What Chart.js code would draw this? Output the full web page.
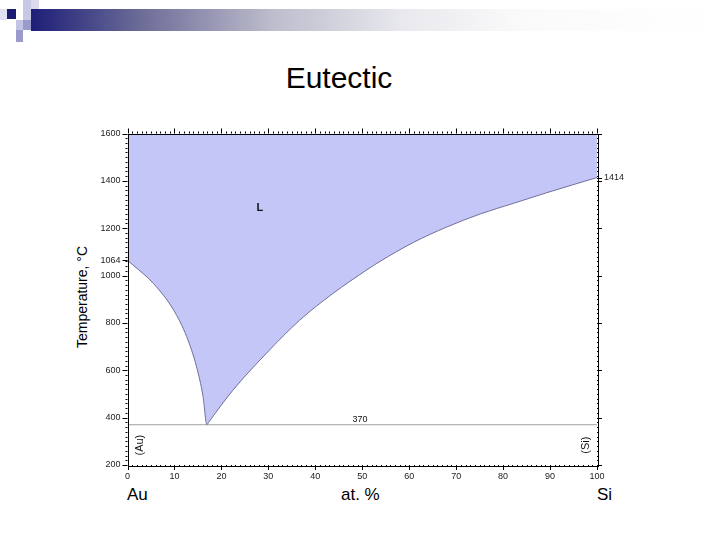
<!DOCTYPE html>
<html>
<head>
<meta charset="utf-8">
<script src="https://cdn.jsdelivr.net/npm/chart.js@4"></script>
<style>
  body { margin: 0; background: #fff; font-family: "Liberation Sans", Arial, sans-serif; }
  #page { position: relative; width: 720px; height: 540px; overflow: hidden; }
  .sq { position: absolute; }
  #bar { position: absolute; left: 31px; top: 9px; width: 689px; height: 22px;
         background: linear-gradient(to right, #1e1e78 0px, #6c6c98 110px, #bcbccc 240px, #e8e8ee 370px, #fafafa 490px, #fff 689px); }
  #title { position: absolute; left: 0; width: 678px; top: 61px; text-align: center; font-size: 30px; color: #000; }
  .lbl { position: absolute; font-size: 17px; color: #000; }
  #ytitle { position: absolute; left: 82px; top: 297px; font-size: 14px; color: #000;
            transform: translate(-50%, -50%) rotate(-90deg); white-space: nowrap; }
  canvas { position: absolute; left: 0; top: 0; }
</style>
</head>
<body>
<div id="page">
  <div id="bar"></div>
  <div class="sq" style="left:0;top:9px;width:7px;height:11px;background:#e0e0f0"></div>
  <div class="sq" style="left:7px;top:9px;width:9px;height:10px;background:#1b1b72"></div>
  <div class="sq" style="left:23px;top:0;width:8px;height:9px;background:#c8c8e4"></div>
  <div class="sq" style="left:31px;top:0;width:8px;height:9px;background:#dcdcee"></div>
  <div class="sq" style="left:23px;top:9px;width:8px;height:11px;background:#c8c8e4"></div>
  <div class="sq" style="left:16px;top:20px;width:7px;height:10px;background:#c4c4e4"></div>
  <div class="sq" style="left:23px;top:20px;width:8px;height:10px;background:#9a9acc"></div>
  <div class="sq" style="left:16px;top:30px;width:7px;height:12px;background:#9a9acc"></div>

  <div id="title">Eutectic</div>
  <div id="ytitle">Temperature, °C</div>
  <div class="lbl" style="left:127px;top:485px">Au</div>
  <div class="lbl" style="left:341px;top:485px">at. %</div>
  <div class="lbl" style="left:597px;top:485px">Si</div>

  <canvas id="phaseChart" width="720" height="540"></canvas>
</div>
<script>
// liquidus (at.% Si, °C): Au-rich branch down to the eutectic, then Si-rich branch
const liqX = [0, 1.2, 5.5, 9.8, 12.6, 14.7, 16.1, 16.9, 17.3, 22.5, 29.6, 36.7, 43.8, 50.9, 53.8, 60.9, 68, 75.1, 82.2, 89.3, 100];
const liqT = [1064, 1044, 967, 855, 742, 615, 488, 370, 381, 517, 672, 812, 925, 1023, 1060, 1140, 1205, 1260, 1305, 1350, 1414];
// eutectic line
const eutX = [0, 100];
const eutT = [370, 370];
// tick labels
const xTicks = [0, 10, 20, 30, 40, 50, 60, 70, 80, 90, 100];
const yTicks = [200, 400, 600, 800, 1000, 1064, 1200, 1400, 1600];
const yRightTicks = [1414];

function toPoints(xs, ys) {
    return xs.map((x, i) => ({ x: x, y: ys[i] }));
}

const fillColor = '#c4c6f8';
const curveColor = '#70709a';

// frame, minor ticks and in-plot labels
const framePlugin = {
    id: 'frame',
    afterDatasetsDraw(chart) {
        const ctx = chart.ctx;
        const a = chart.chartArea;
        const xs = chart.scales.x;
        const ys = chart.scales.y;
        ctx.save();
        ctx.strokeStyle = '#000';
        ctx.lineWidth = 1;
        ctx.strokeRect(Math.round(a.left) + 0.5, Math.round(a.top) + 0.5,
            Math.round(a.right - a.left), Math.round(a.bottom - a.top));

        ctx.beginPath();
        for (let v = 0; v <= 100; v++) {
            const px = Math.round(xs.getPixelForValue(v)) + 0.5;
            const len = v % 10 === 0 ? 5 : 2;
            ctx.moveTo(px, a.bottom); ctx.lineTo(px, a.bottom + len);
            ctx.moveTo(px, a.top); ctx.lineTo(px, a.top - len);
        }
        for (let v = 200; v <= 1600; v += 20) {
            const py = Math.round(ys.getPixelForValue(v)) + 0.5;
            const len = v % 200 === 0 ? 5 : 2;
            ctx.moveTo(a.left, py); ctx.lineTo(a.left - len, py);
            ctx.moveTo(a.right, py); ctx.lineTo(a.right + len, py);
        }
        // extra ticks at the melting points
        let py = Math.round(ys.getPixelForValue(1064)) + 0.5;
        ctx.moveTo(a.left, py); ctx.lineTo(a.left - 5, py);
        py = Math.round(ys.getPixelForValue(1414)) + 0.5;
        ctx.moveTo(a.right, py); ctx.lineTo(a.right + 5, py);
        ctx.stroke();

        ctx.fillStyle = '#111';
        ctx.textAlign = 'center';
        ctx.textBaseline = 'middle';
        ctx.font = 'bold 11px "Liberation Sans", Arial, sans-serif';
        ctx.fillText('L', xs.getPixelForValue(28.2), ys.getPixelForValue(1285));
        ctx.font = '9px "Liberation Sans", Arial, sans-serif';
        ctx.fillText('370', xs.getPixelForValue(49.5), ys.getPixelForValue(394));

        ctx.font = '11px "Liberation Sans", Arial, sans-serif';
        [['(Au)', 2.7], ['(Si)', 97.6]].forEach(function (item) {
            ctx.save();
            ctx.translate(xs.getPixelForValue(item[1]), ys.getPixelForValue(284));
            ctx.rotate(-Math.PI / 2);
            ctx.fillText(item[0], 0, 0);
            ctx.restore();
        });
        ctx.restore();
    }
};

const tickFont = { family: '"Liberation Sans", Arial, sans-serif', size: 9 };
const plainLabel = v => String(v);

new Chart(document.getElementById('phaseChart'), {
    type: 'scatter',
    data: {
        datasets: [
            {
                data: toPoints(liqX, liqT),
                showLine: true,
                fill: 'end',
                backgroundColor: fillColor,
                borderColor: curveColor,
                borderWidth: 1,
                pointRadius: 0,
                cubicInterpolationMode: 'monotone'
            },
            {
                data: toPoints(eutX, eutT),
                showLine: true,
                fill: false,
                borderColor: '#a0a0a0',
                borderWidth: 1,
                pointRadius: 0
            }
        ]
    },
    options: {
        responsive: false,
        animation: false,
        devicePixelRatio: 1,
        layout: { padding: { left: 87.5, right: 83, top: 133.5, bottom: 55 } },
        plugins: { legend: { display: false }, tooltip: { enabled: false } },
        scales: {
            x: {
                type: 'linear',
                min: 0,
                max: 100,
                afterBuildTicks: s => { s.ticks = xTicks.map(v => ({ value: v })); },
                afterFit: s => { s.height = 20; },
                ticks: { font: tickFont, color: '#222', padding: 6, autoSkip: false, maxRotation: 0, callback: plainLabel },
                grid: { display: false, drawTicks: false },
                border: { display: false }
            },
            y: {
                type: 'linear',
                min: 200,
                max: 1600,
                afterBuildTicks: s => { s.ticks = yTicks.map(v => ({ value: v })); },
                afterFit: s => { s.width = 40; },
                ticks: { font: tickFont, color: '#222', padding: 7, autoSkip: false, callback: plainLabel },
                grid: { display: false, drawTicks: false },
                border: { display: false }
            },
            y2: {
                type: 'linear',
                position: 'right',
                min: 200,
                max: 1600,
                afterBuildTicks: s => { s.ticks = yRightTicks.map(v => ({ value: v })); },
                afterFit: s => { s.width = 40; },
                ticks: { font: tickFont, color: '#222', padding: 7, autoSkip: false, callback: plainLabel },
                grid: { display: false, drawTicks: false },
                border: { display: false }
            }
        }
    },
    plugins: [framePlugin]
});
</script>
</body>
</html>
